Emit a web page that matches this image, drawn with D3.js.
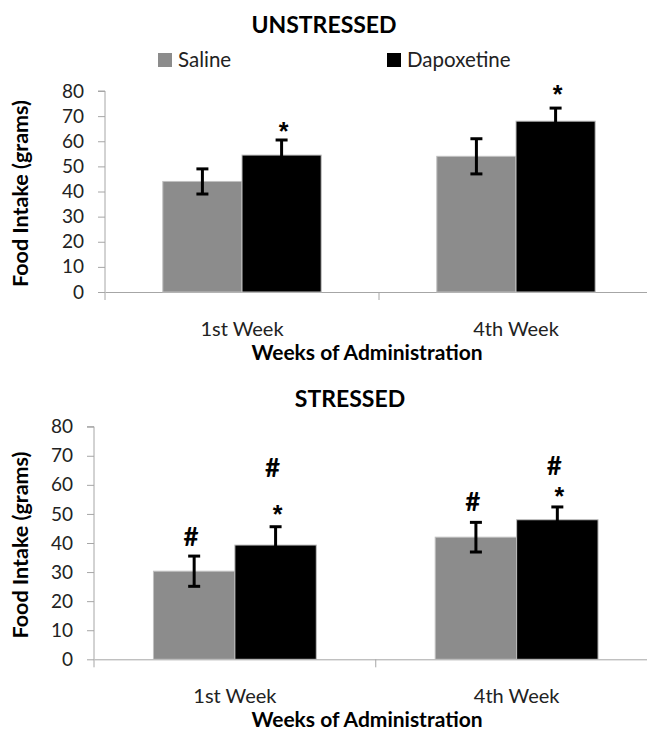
<!DOCTYPE html>
<html><head><meta charset="utf-8">
<script src="https://cdn.jsdelivr.net/npm/d3@7"></script>
<style>body{margin:0;background:#fff}svg{display:block}text{font-family:Lato,"Open Sans",sans-serif}</style>
</head><body><svg id="c" width="647" height="732"></svg>
<script>
const categories = ["1st Week", "4th Week"];
const seriesNames = ["Saline", "Dapoxetine"];
const seriesColors = ["#8c8c8c", "#000000"];
const yTicks = [0, 10, 20, 30, 40, 50, 60, 70, 80];
// Unstressed
const unstressedSaline = [44, 54];
const unstressedSalineErr = [5, 7];
const unstressedDapox = [54.5, 68];
const unstressedDapoxErr = [6, 5.2];
// Stressed
const stressedSaline = [30.3, 42];
const stressedSalineErr = [5.2, 5.1];
const stressedDapox = [39.3, 48];
const stressedDapoxErr = [6.3, 4.4];
// significance marks: [category, series, symbol, level in grams]
const unstressedMarks = [[0, 1, "*", 66.5], [1, 1, "*", 81.3]];
const stressedMarks = [[0, 0, "#", 42.2], [0, 1, "*", 52], [0, 1, "#", 65.8],
                       [1, 0, "#", 54.2], [1, 1, "#", 66.5], [1, 1, "*", 58.3]];

const svg = d3.select("#c");

function panel(cfg) {
  const g = svg.append("g");
  const y = d3.scaleLinear().domain([0, 80]).range([cfg.y0, cfg.y80]);
  const x0 = d3.scaleBand().domain(categories).range([cfg.xl, cfg.xr]);
  const bw = x0.bandwidth();
  const x1 = d3.scaleBand().domain(seriesNames).range([bw * 0.211, bw * 0.789]);
  const vals = [cfg.saline, cfg.dapox], errs = [cfg.salineErr, cfg.dapoxErr];

  // y axis
  const ya = d3.axisLeft(y).tickValues(yTicks).tickSize(7).tickPadding(14);
  const yg = g.append("g").attr("transform", `translate(${cfg.xl},0)`).call(ya);
  yg.select(".domain").attr("stroke", "#a6a6a6").attr("d", `M-7,${cfg.y80}H0V${cfg.y0 + 8}`);
  yg.selectAll(".tick line").attr("stroke", "#a6a6a6");
  yg.selectAll(".tick text").attr("fill", "#222").style("font-size", "19px").style("font-family", "Lato");

  // x axis
  const xa = d3.axisBottom(x0).tickSize(0).tickPadding(30);
  const xg = g.append("g").attr("transform", `translate(0,${cfg.y0})`).call(xa);
  xg.select(".domain").attr("stroke", "#a6a6a6");
  xg.selectAll(".tick text").attr("fill", "#222").style("font-size", "20px").style("font-family", "Lato");
  g.append("line").attr("x1", cfg.xl + bw).attr("x2", cfg.xl + bw)
    .attr("y1", cfg.y0).attr("y2", cfg.y0 + 8).attr("stroke", "#a6a6a6");

  // bars
  categories.forEach((c, ci) => {
    seriesNames.forEach((s, si) => {
      const v = vals[si][ci], e = errs[si][ci];
      const bx = x0(c) + x1(s);
      g.append("rect").attr("x", bx).attr("y", y(v)).attr("width", x1.bandwidth())
        .attr("height", y(0) - y(v)).attr("fill", seriesColors[si]).attr("stroke", "#c0c0c0").attr("stroke-width", 1);
      const cx = bx + x1.bandwidth() / 2;
      const eg = g.append("g").attr("stroke", "#000").attr("stroke-width", 3);
      eg.append("line").attr("x1", cx).attr("x2", cx).attr("y1", y(v + e)).attr("y2", y(v - e));
      eg.append("line").attr("x1", cx - 6).attr("x2", cx + 6).attr("y1", y(v + e)).attr("y2", y(v + e));
      eg.append("line").attr("x1", cx - 6).attr("x2", cx + 6).attr("y1", y(v - e)).attr("y2", y(v - e));
    });
  });

  // significance marks
  cfg.marks.forEach(([ci, si, sym, lvl]) => {
    const star = sym === "*";
    const cx = x0(categories[ci]) + x1(seriesNames[si]) + x1.bandwidth() / 2 + (star ? 2 : -3);
    g.append("text").attr("x", cx).attr("y", y(lvl) + (star ? 15 : 9.5))
      .attr("text-anchor", "middle")
      .style("font-family", star ? "'Liberation Sans'" : "Lato")
      .style("font-size", star ? "25px" : "26px")
      .style("font-weight", "bold").attr("fill", "#000").text(sym);
  });

  // titles
  g.append("text").attr("x", cfg.titleX).attr("y", cfg.titleY).attr("text-anchor", "middle")
    .style("font-size", "23px").style("font-weight", "bold").attr("fill", "#000").text(cfg.title);
  g.append("text").attr("transform", `translate(28,${(cfg.y0 + cfg.y80) / 2 + 2}) rotate(-90)`)
    .attr("text-anchor", "middle").style("font-size", "21.5px").style("font-weight", "bold").attr("fill", "#000")
    .text("Food Intake (grams)");
  g.append("text").attr("x", 367).attr("y", cfg.y0 + 68).attr("text-anchor", "middle")
    .style("font-size", "21px").style("font-weight", "bold").attr("fill", "#000").text("Weeks of Administration");
  return g;
}

panel({xl: 105, xr: 653, y0: 292, y80: 91, saline: unstressedSaline, salineErr: unstressedSalineErr,
  dapox: unstressedDapox, dapoxErr: unstressedDapoxErr, marks: unstressedMarks,
  title: "UNSTRESSED", titleX: 324, titleY: 33});
panel({xl: 94, xr: 657.5, y0: 659.3, y80: 426.7, saline: stressedSaline, salineErr: stressedSalineErr,
  dapox: stressedDapox, dapoxErr: stressedDapoxErr, marks: stressedMarks,
  title: "STRESSED", titleX: 350, titleY: 407});

// legend
const legX = [158, 387];
const lg = svg.append("g");
seriesNames.forEach((s, i) => {
  lg.append("rect").attr("x", legX[i]).attr("y", 53).attr("width", 14).attr("height", 14).attr("fill", seriesColors[i]);
  lg.append("text").attr("x", legX[i] + 20).attr("y", 67).style("font-size", "20.5px").attr("fill", "#222").text(s);
});
</script></body></html>
